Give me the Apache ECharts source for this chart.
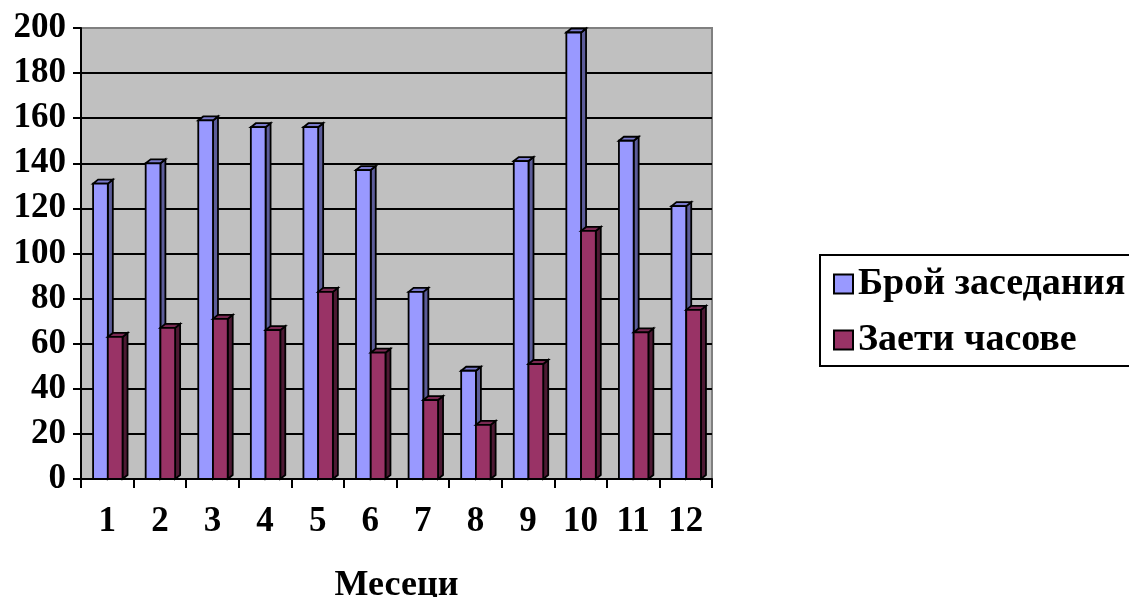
<!DOCTYPE html>
<html>
<head>
<meta charset="utf-8">
<script src="https://cdn.jsdelivr.net/npm/echarts@6/dist/echarts.min.js"></script>
<style>html,body{margin:0;padding:0;background:#fff}#c{width:1129px;height:597px}</style>
</head>
<body>
<div id="c"></div>
<script>
var categories = ['1','2','3','4','5','6','7','8','9','10','11','12'];
var meetings = [131, 140, 159, 156, 156, 137, 83, 48, 141, 198, 150, 121];
var hours = [63, 67, 71, 66, 83, 56, 35, 24, 51, 110, 65, 75];
var seriesNames = ['Брой заседания', 'Заети часове'];
var yTicks = [0, 20, 40, 60, 80, 100, 120, 140, 160, 180, 200];

var FONT = '"Liberation Serif", "Times New Roman", serif';

function makeRender(offsetFrac, front, side, top) {
  return function (params, api) {
    var idx = api.value(0), val = api.value(1);
    var p = api.coord([idx, val]);
    var b = api.coord([idx, 0]);
    var cw = api.size([1, 0])[0];
    var w = cw * 0.28;
    var x0 = p[0] + cw * offsetFrac;
    var y0 = p[1], y1 = b[1];
    var dx = 5, dy = 4;
    var st = {stroke: '#000', lineWidth: 1.8};
    return {
      type: 'group',
      children: [
        {type: 'polygon', shape: {points: [[x0 + w, y0], [x0 + w + dx, y0 - dy], [x0 + w + dx, y1 - dy], [x0 + w, y1]]},
          style: Object.assign({fill: side}, st)},
        {type: 'polygon', shape: {points: [[x0, y0], [x0 + dx, y0 - dy], [x0 + w + dx, y0 - dy], [x0 + w, y0]]},
          style: Object.assign({fill: top}, st)},
        {type: 'rect', shape: {x: x0, y: y0, width: w, height: y1 - y0},
          style: Object.assign({fill: front}, st)}
      ]
    };
  };
}

function toData(arr) { return arr.map(function (v, i) { return [i, v]; }); }

var chart = echarts.init(document.getElementById('c'));
var gridColors = yTicks.map(function (t, i) { return i === yTicks.length - 1 ? '#808080' : '#000'; });
chart.setOption({
  animation: false,
  backgroundColor: '#fff',
  grid: {left: 81, right: 417, top: 28, bottom: 118, containLabel: false, outerBoundsMode: 'none',
    show: true, backgroundColor: '#c0c0c0', borderColor: '#808080', borderWidth: 2},
  legend: {
    orient: 'vertical', left: 820, top: 255,
    data: seriesNames,
    itemWidth: 19, itemHeight: 19, itemGap: 18,
    padding: [10, 30, 7, 13],
    borderColor: '#000', borderWidth: 2,
    textStyle: {fontFamily: FONT, fontWeight: 'bold', fontSize: 38, color: '#000'},
    icon: 'rect'
  },
  xAxis: {
    type: 'category', data: categories,
    name: 'Месеци', nameLocation: 'middle', nameGap: 89,
    nameTextStyle: {fontFamily: FONT, fontWeight: 'bold', fontSize: 36, color: '#000'},
    axisLine: {lineStyle: {color: '#000', width: 2}},
    axisTick: {show: true, length: 9, lineStyle: {color: '#000', width: 2}},
    axisLabel: {fontFamily: FONT, fontWeight: 'bold', fontSize: 35, color: '#000', margin: 25}
  },
  yAxis: {
    type: 'value', min: 0, max: 200, interval: 20,
    axisLine: {show: true, lineStyle: {color: '#000', width: 2}},
    axisTick: {show: true, length: 8, lineStyle: {color: '#000', width: 2}},
    axisLabel: {fontFamily: FONT, fontWeight: 'bold', fontSize: 35, color: '#000', margin: 15},
    splitLine: {show: true, lineStyle: {color: gridColors, width: 2}}
  },
  series: [
    {name: seriesNames[0], type: 'custom', data: toData(meetings), encode: {x: 0, y: 1},
      itemStyle: {color: '#9999ff', borderColor: '#000', borderWidth: 1.5},
      renderItem: makeRender(-0.27, '#9999ff', '#5c5c99', '#7a7acc')},
    {name: seriesNames[1], type: 'custom', data: toData(hours), encode: {x: 0, y: 1},
      itemStyle: {color: '#993366', borderColor: '#000', borderWidth: 1.5},
      renderItem: makeRender(0.01, '#993366', '#4d1933', '#7a2952')}
  ]
});
</script>
</body>
</html>
